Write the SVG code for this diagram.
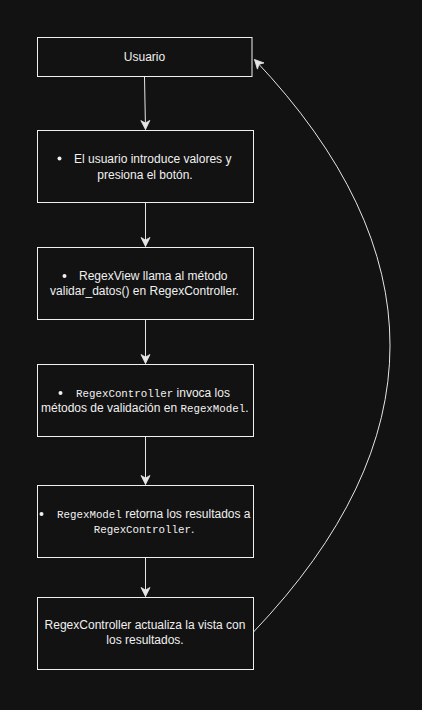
<svg xmlns="http://www.w3.org/2000/svg" width="422" height="710" viewBox="0 0 422 710">
<defs>
<style>
.box{fill:#121212;stroke:#f0f0f0;stroke-width:1}
.t{font-family:"Liberation Sans",Arial,sans-serif;font-size:12px;fill:#f0f0f0}
.m{font-family:"Liberation Mono","DejaVu Sans Mono",monospace;font-size:10.8px}
.c{text-anchor:middle}
.edge{fill:none;stroke:#e6e6e6;stroke-width:1}
.dot{fill:#f0f0f0}
</style>
<marker id="arr" markerUnits="userSpaceOnUse" markerWidth="12" markerHeight="12" viewBox="-11 -6 12 12" refX="0" refY="0" orient="auto">
<path d="M0,0 L-9,-4.5 L-6.5,0 L-9,4.5 Z" fill="#e6e6e6" stroke="#e6e6e6" stroke-width="0.8"/>
</marker>
</defs>
<rect x="0" y="0" width="422" height="710" fill="#121212"/>
<g id="connectors">
<path class="edge" d="M144.5,77 L145.5,129.5" marker-end="url(#arr)"/>
<path class="edge" d="M145.5,202.5 L145.5,246.5" marker-end="url(#arr)"/>
<path class="edge" d="M145.5,319.5 L145.5,363.5" marker-end="url(#arr)"/>
<path class="edge" d="M145.5,436.5 L145.5,484.5" marker-end="url(#arr)"/>
<path class="edge" d="M145.5,557.5 L145.5,596.5" marker-end="url(#arr)"/>
<path class="edge" d="M253.5,632 Q526,346 254.5,59.5" marker-end="url(#arr)"/>
</g>
<g id="n1">
<rect class="box" x="37.5" y="37.5" width="214.5" height="39"/>
<text class="t c" x="144.5" y="61">Usuario</text>
</g>
<g id="n2">
<rect class="box" x="37.5" y="130.5" width="216" height="72"/>
<circle class="dot" cx="59.5" cy="158.5" r="2"/>
<text class="t" x="74" y="162.5">El usuario introduce valores y</text>
<text class="t c" x="145" y="178.5">presiona el botón.</text>
</g>
<g id="n3">
<rect class="box" x="37.5" y="247.5" width="216" height="72"/>
<circle class="dot" cx="64.5" cy="276" r="2"/>
<text class="t" x="79" y="280">RegexView llama al método</text>
<text class="t c" x="144.5" y="295">validar_datos() en RegexController.</text>
</g>
<g id="n4">
<rect class="box" x="37.5" y="364.5" width="216" height="72"/>
<circle class="dot" cx="60.5" cy="393" r="2"/>
<text class="t" x="76" y="397"><tspan class="m">RegexController</tspan> invoca los</text>
<text class="t" x="41" y="412">métodos de validación en <tspan class="m">RegexModel</tspan>.</text>
</g>
<g id="n5">
<rect class="box" x="37.5" y="485.5" width="216" height="72"/>
<circle class="dot" cx="41.5" cy="514" r="2"/>
<text class="t" x="57" y="518"><tspan class="m">RegexModel</tspan> retorna los resultados a</text>
<text class="t c" x="144" y="533"><tspan class="m">RegexController</tspan>.</text>
</g>
<g id="n6">
<rect class="box" x="37.5" y="597.5" width="216" height="72"/>
<text class="t c" x="145" y="629">RegexController actualiza la vista con</text>
<text class="t c" x="145" y="644">los resultados.</text>
</g>
</svg>
